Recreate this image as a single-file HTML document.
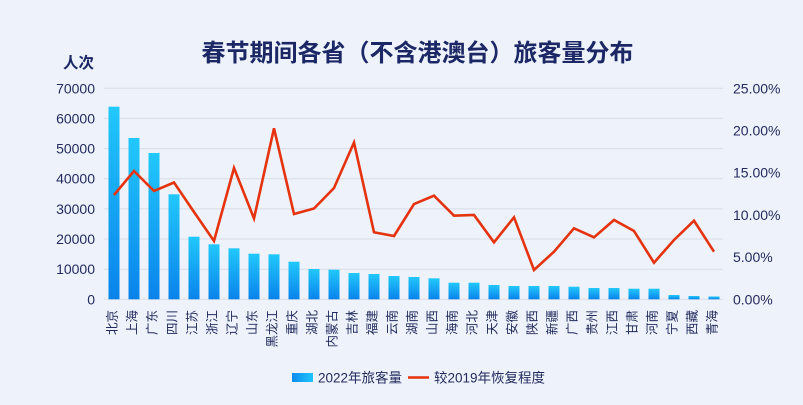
<!DOCTYPE html>
<html>
<head>
<meta charset="utf-8">
<style>
  html, body { margin:0; padding:0; }
  body { width:803px; height:405px; background:#eef3fb; overflow:hidden; }
  svg { display:block; }
  text { font-family: "Liberation Sans", "Noto Sans CJK SC", sans-serif; fill:#232b5e; }
</style>
</head>
<body>
<svg width="803" height="405" viewBox="0 0 803 405" xmlns="http://www.w3.org/2000/svg">
  <defs>
    <linearGradient id="bg" x1="0" y1="0" x2="0" y2="1">
      <stop offset="0" stop-color="#22c8fd"/>
      <stop offset="1" stop-color="#0983eb"/>
    </linearGradient>
    <linearGradient id="lg" x1="0" y1="0" x2="1" y2="0">
      <stop offset="0" stop-color="#0b8cee"/>
      <stop offset="1" stop-color="#20c4fc"/>
    </linearGradient>
  </defs>
  <rect width="803" height="405" fill="#eef3fb"/>

  <!-- title -->
  <text x="417.5" y="61" text-anchor="middle" font-size="24" font-weight="bold" style="fill:#1c2766">春节期间各省（不含港澳台）旅客量分布</text>
  <text x="94" y="68" text-anchor="end" font-size="15.5" font-weight="bold" style="fill:#1c2766">人次</text>

  <!-- gridlines -->
  <g stroke="#d8dce6" stroke-width="1">
    <line x1="104" y1="88.3" x2="723" y2="88.3"/>
    <line x1="104" y1="118.4" x2="723" y2="118.4"/>
    <line x1="104" y1="148.6" x2="723" y2="148.6"/>
    <line x1="104" y1="178.7" x2="723" y2="178.7"/>
    <line x1="104" y1="208.9" x2="723" y2="208.9"/>
    <line x1="104" y1="239" x2="723" y2="239"/>
    <line x1="104" y1="269.2" x2="723" y2="269.2"/>
    <line x1="104" y1="299.3" x2="723" y2="299.3"/>
  </g>

  <!-- left axis labels -->
  <g font-size="14" text-anchor="end">
    <text x="95" y="93.3">70000</text>
    <text x="95" y="123.4">60000</text>
    <text x="95" y="153.6">50000</text>
    <text x="95" y="183.7">40000</text>
    <text x="95" y="213.9">30000</text>
    <text x="95" y="244">20000</text>
    <text x="95" y="274.2">10000</text>
    <text x="95" y="304.3">0</text>
  </g>

  <!-- right axis labels -->
  <g font-size="14" text-anchor="start">
    <text x="733" y="93.3">25.00%</text>
    <text x="733" y="135.5">20.00%</text>
    <text x="733" y="177.7">15.00%</text>
    <text x="733" y="219.9">10.00%</text>
    <text x="733" y="262.1">5.00%</text>
    <text x="733" y="304.3">0.00%</text>
  </g>

  <!-- bars -->
  <g fill="url(#bg)">
    <rect x="108.5" y="106.7" width="11" height="192.6"/>
    <rect x="128.5" y="138" width="11" height="161.3"/>
    <rect x="148.5" y="153" width="11" height="146.3"/>
    <rect x="168.5" y="194.3" width="11" height="105"/>
    <rect x="188.5" y="236.7" width="11" height="62.6"/>
    <rect x="208.5" y="244.3" width="11" height="55"/>
    <rect x="228.5" y="248.3" width="11" height="51"/>
    <rect x="248.5" y="253.7" width="11" height="45.6"/>
    <rect x="268.5" y="254.3" width="11" height="45"/>
    <rect x="288.5" y="261.7" width="11" height="37.6"/>
    <rect x="308.5" y="269" width="11" height="30.3"/>
    <rect x="328.5" y="269.7" width="11" height="29.6"/>
    <rect x="348.5" y="273" width="11" height="26.3"/>
    <rect x="368.5" y="274" width="11" height="25.3"/>
    <rect x="388.5" y="276" width="11" height="23.3"/>
    <rect x="408.5" y="277" width="11" height="22.3"/>
    <rect x="428.5" y="278.3" width="11" height="21"/>
    <rect x="448.5" y="282.7" width="11" height="16.6"/>
    <rect x="468.5" y="282.7" width="11" height="16.6"/>
    <rect x="488.5" y="285" width="11" height="14.3"/>
    <rect x="508.5" y="286" width="11" height="13.3"/>
    <rect x="528.5" y="286" width="11" height="13.3"/>
    <rect x="548.5" y="286" width="11" height="13.3"/>
    <rect x="568.5" y="286.7" width="11" height="12.6"/>
    <rect x="588.5" y="288" width="11" height="11.3"/>
    <rect x="608.5" y="288" width="11" height="11.3"/>
    <rect x="628.5" y="288.7" width="11" height="10.6"/>
    <rect x="648.5" y="288.7" width="11" height="10.6"/>
    <rect x="668.5" y="295" width="11" height="4.3"/>
    <rect x="688.5" y="296" width="11" height="3.3"/>
    <rect x="708.5" y="296.5" width="11" height="2.8"/>
  </g>

  <!-- line -->
  <polyline fill="none" stroke="#e5330f" stroke-width="2.6" stroke-linejoin="miter" stroke-miterlimit="4"
    points="114,195 134,171 154,191 174,182.5 194,212 214,241 234,168 254,218.5 274,128.3 294,214 314,208.5 334,188 354,142.5 374,232.3 394,236 414,204 434,195.7 454,215.7 474,215 494,242.3 514,217.3 534,270 554,251.7 574,228.3 594,237.3 614,220 634,231 654,262.7 674,240 694,220.7 714,251.7"/>

  <!-- x labels -->
  <g font-size="12.5" text-anchor="end">
    <text transform="translate(116.5,310) rotate(-90)">北京</text>
    <text transform="translate(136.5,310) rotate(-90)">上海</text>
    <text transform="translate(156.5,310) rotate(-90)">广东</text>
    <text transform="translate(176.5,310) rotate(-90)">四川</text>
    <text transform="translate(196.5,310) rotate(-90)">江苏</text>
    <text transform="translate(216.5,310) rotate(-90)">浙江</text>
    <text transform="translate(236.5,310) rotate(-90)">辽宁</text>
    <text transform="translate(256.5,310) rotate(-90)">山东</text>
    <text transform="translate(276.5,310) rotate(-90)">黑龙江</text>
    <text transform="translate(296.5,310) rotate(-90)">重庆</text>
    <text transform="translate(316.5,310) rotate(-90)">湖北</text>
    <text transform="translate(336.5,310) rotate(-90)">内蒙古</text>
    <text transform="translate(356.5,310) rotate(-90)">吉林</text>
    <text transform="translate(376.5,310) rotate(-90)">福建</text>
    <text transform="translate(396.5,310) rotate(-90)">云南</text>
    <text transform="translate(416.5,310) rotate(-90)">湖南</text>
    <text transform="translate(436.5,310) rotate(-90)">山西</text>
    <text transform="translate(456.5,310) rotate(-90)">海南</text>
    <text transform="translate(476.5,310) rotate(-90)">河北</text>
    <text transform="translate(496.5,310) rotate(-90)">天津</text>
    <text transform="translate(516.5,310) rotate(-90)">安徽</text>
    <text transform="translate(536.5,310) rotate(-90)">陕西</text>
    <text transform="translate(556.5,310) rotate(-90)">新疆</text>
    <text transform="translate(576.5,310) rotate(-90)">广西</text>
    <text transform="translate(596.5,310) rotate(-90)">贵州</text>
    <text transform="translate(616.5,310) rotate(-90)">江西</text>
    <text transform="translate(636.5,310) rotate(-90)">甘肃</text>
    <text transform="translate(656.5,310) rotate(-90)">河南</text>
    <text transform="translate(676.5,310) rotate(-90)">宁夏</text>
    <text transform="translate(696.5,310) rotate(-90)">西藏</text>
    <text transform="translate(716.5,310) rotate(-90)">青海</text>
  </g>

  <!-- legend -->
  <rect x="292" y="373" width="21" height="9" fill="url(#lg)"/>
  <text x="318" y="382.3" font-size="13.5">2022年旅客量</text>
  <line x1="408" y1="377.5" x2="429" y2="377.5" stroke="#e5330f" stroke-width="2.6"/>
  <text x="434" y="382.3" font-size="13.5">较2019年恢复程度</text>
</svg>
</body>
</html>
